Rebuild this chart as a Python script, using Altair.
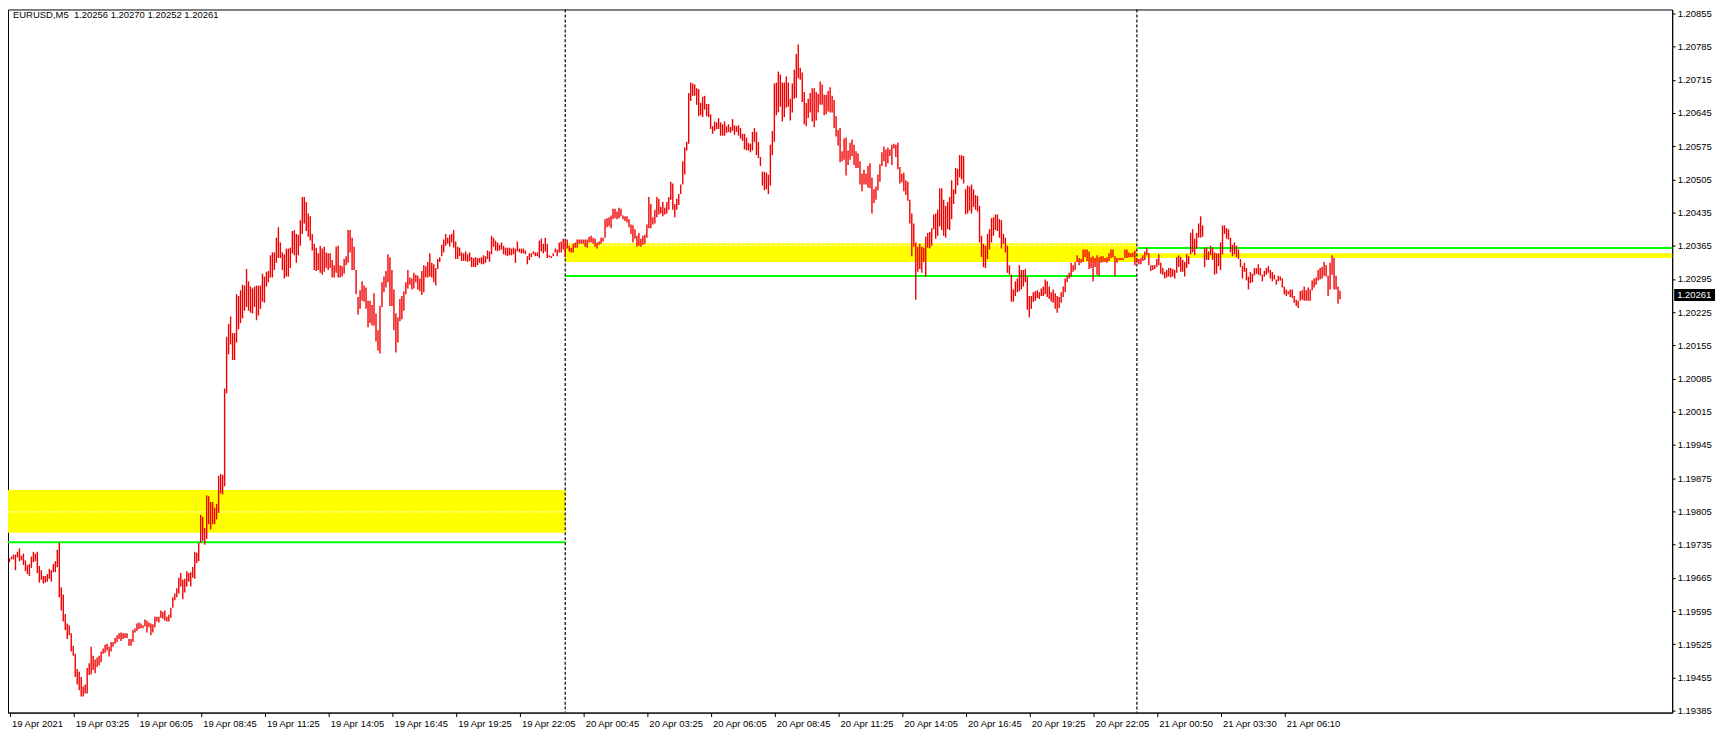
import json
import altair as alt
import pandas as pd

# ---- bar data: high / low of each M5 bar, in price points (1e-5) ----
high_pts = [
    119706,119710,119714,119714,119720,119727,119712,119716,119702,119692,119694,119710,119720,119716,119720,119690,119681,119669,119669,119673,
    119684,119681,119694,119700,119724,119739,119645,119630,119589,119569,119565,119548,119522,119505,119473,119467,119456,119436,119440,119475,
    119485,119520,119501,119493,119497,119501,119510,119516,119524,119526,119520,119530,119530,119538,119544,119548,119550,119548,119548,119548,
    119536,119536,119555,119559,119569,119571,119569,119565,119577,119575,119571,119569,119567,119583,119583,119583,119596,119593,119596,119583,
    119587,119602,119624,119632,119643,119665,119675,119661,119663,119679,119675,119677,119688,119720,119718,119739,119798,119794,119770,119839,
    119837,119825,119825,119813,119821,119880,119884,119882,120064,120173,120200,120216,120181,120181,120263,120259,120271,120283,120281,120316,
    120290,120279,120275,120279,120281,120281,120281,120306,120300,120310,120312,120345,120351,120351,120382,120404,120372,120351,120347,120359,
    120359,120361,120396,120398,120390,120388,120419,120468,120468,120457,120433,120427,120390,120369,120361,120349,120365,120359,120363,120351,
    120349,120349,120335,120324,120363,120365,120324,120322,120337,120343,120398,120398,120382,120363,120314,120257,120271,120290,120281,120277,
    120249,120249,120240,120265,120222,120187,120238,120288,120300,120312,120347,120341,120314,120273,120222,120214,120253,120259,120269,120288,
    120314,120298,120296,120308,120304,120302,120296,120312,120324,120322,120331,120349,120329,120326,120318,120337,120341,120367,120378,120390,
    120382,120388,120390,120398,120374,120363,120361,120351,120349,120353,120347,120351,120341,120339,120341,120339,120339,120341,120345,120343,
    120355,120353,120386,120382,120376,120372,120367,120372,120365,120361,120361,120361,120359,120361,120359,120374,120359,120359,120359,120355,
    120343,120349,120349,120353,120351,120351,120376,120380,120369,120382,120369,120345,120343,120349,120359,120357,120372,120374,120380,120376,
    120378,120365,120361,120369,120372,120378,120378,120378,120378,120378,120378,120384,120386,120382,120380,120372,120374,120382,120382,120421,
    120423,120425,120429,120443,120443,120437,120445,120443,120429,120427,120427,120421,120410,120408,120400,120386,120392,120380,120386,120388,
    120410,120468,120453,120425,120441,120468,120464,120447,120457,120445,120457,120468,120500,120496,120453,120464,120474,120494,120543,120572,
    120584,120687,120709,120707,120705,120697,120695,120666,120679,120681,120664,120664,120642,120617,120627,120625,120634,120625,120621,120627,
    120617,120621,120615,120632,120619,120617,120619,120613,120601,120601,120593,120582,120580,120605,120613,120605,120584,120552,120521,120521,
    120519,120515,120578,120607,120707,120709,120732,120726,120709,120709,120722,120709,120675,120707,120736,120769,120789,120740,120730,120689,
    120666,120675,120687,120697,120697,120689,120685,120711,120705,120683,120683,120691,120699,120681,120672,120638,120609,120613,120564,120591,
    120593,120566,120582,120589,120578,120564,120560,120543,120517,120525,120517,120533,120539,120509,120484,120490,120515,120537,120562,120574,
    120568,120572,120568,120578,120580,120578,120582,120531,120517,120519,120503,120500,120462,120433,120412,120372,120363,120369,120363,120361,
    120384,120392,120394,120402,120431,120433,120441,120486,120486,120462,120449,120457,120468,120503,120484,120529,120527,120556,120556,120554,
    120484,120492,120490,120494,120484,120472,120470,120449,120386,120369,120365,120390,120400,120423,120425,120431,120431,120421,120419,120390,
    120382,120365,120324,120304,120273,120290,120296,120324,120314,120314,120316,120300,120259,120259,120267,120269,120271,120267,120275,120279,
    120294,120290,120279,120267,120273,120265,120259,120257,120267,120279,120296,120302,120308,120329,120324,120331,120345,120339,120337,120357,
    120357,120357,120353,120341,120343,120339,120345,120341,120343,120343,120339,120341,120349,120357,120357,120343,120339,120339,120339,120339,
    120357,120357,120351,120349,120351,120355,120339,120337,120339,120345,120353,120361,120349,120324,120324,120324,120337,120347,120329,120318,
    120310,120314,120318,120318,120316,120314,120341,120345,120341,120335,120331,120347,120343,120392,120400,120380,120392,120412,120427,120408,
    120361,120361,120353,120365,120361,120351,120349,120349,120372,120408,120408,120402,120400,120382,120367,120372,120365,120357,120337,120322,
    120329,120318,120300,120310,120306,120318,120318,120326,120318,120304,120312,120318,120322,120314,120310,120304,120294,120302,120300,120296,
    120279,120273,120269,120273,120273,120259,120251,120249,120269,120271,120279,120271,120277,120273,120292,120296,120298,120314,120318,120320,
    120331,120324,120302,120329,120345,120339,120302,120279,120270,
]
low_pts = [
    119698,119704,119704,119681,119708,119700,119702,119692,119679,119673,119669,119686,119698,119700,119675,119655,119661,119653,119655,119657,
    119663,119657,119677,119677,119688,119624,119596,119573,119555,119536,119544,119510,119501,119456,119440,119428,119415,119415,119421,119421,
    119460,119462,119471,119464,119477,119481,119487,119505,119507,119512,119499,119510,119520,119526,119530,119536,119532,119536,119538,119538,
    119522,119522,119530,119550,119553,119557,119559,119559,119563,119550,119561,119544,119550,119561,119573,119571,119581,119579,119575,119573,
    119573,119581,119602,119618,119624,119632,119647,119620,119634,119647,119657,119647,119665,119663,119696,119700,119739,119743,119735,119747,
    119778,119767,119778,119778,119788,119802,119843,119841,119858,120054,120136,120157,120124,120124,120161,120189,120202,120212,120228,120236,
    120228,120224,120222,120236,120208,120218,120232,120247,120245,120279,120288,120298,120298,120314,120329,120339,120339,120314,120296,120300,
    120300,120318,120349,120345,120329,120345,120365,120390,120412,120396,120384,120376,120355,120314,120312,120314,120308,120304,120310,120318,
    120314,120318,120298,120298,120308,120298,120298,120300,120306,120324,120329,120351,120314,120314,120263,120220,120232,120249,120247,120232,
    120193,120202,120197,120197,120163,120144,120138,120236,120267,120277,120288,120238,120238,120187,120140,120161,120206,120210,120228,120263,
    120275,120283,120273,120275,120288,120273,120269,120261,120267,120298,120298,120300,120298,120288,120281,120316,120331,120343,120351,120365,
    120369,120363,120372,120361,120337,120337,120343,120333,120333,120333,120331,120333,120320,120320,120320,120324,120329,120326,120326,120329,
    120337,120331,120347,120363,120355,120353,120355,120357,120347,120345,120343,120345,120345,120347,120329,120353,120351,120349,120349,120347,
    120326,120335,120341,120347,120343,120343,120339,120353,120349,120353,120339,120341,120339,120343,120351,120343,120351,120351,120357,120341,
    120359,120353,120351,120351,120361,120361,120369,120369,120369,120363,120361,120372,120372,120369,120363,120359,120367,120369,120374,120382,
    120404,120406,120402,120421,120423,120421,120423,120427,120421,120417,120414,120404,120390,120372,120380,120363,120365,120363,120367,120369,
    120382,120402,120402,120410,120412,120425,120431,120433,120427,120431,120433,120441,120462,120441,120425,120441,120451,120474,120494,120515,
    120566,120580,120670,120681,120681,120662,120638,120640,120636,120652,120638,120636,120611,120601,120607,120611,120611,120597,120597,120597,
    120603,120605,120603,120607,120599,120605,120597,120591,120586,120568,120566,120566,120562,120566,120584,120556,120550,120533,120492,120482,
    120484,120474,120492,120556,120584,120640,120646,120658,120627,120636,120656,120658,120629,120646,120675,120677,120718,120715,120668,120621,
    120617,120634,120646,120627,120615,120629,120646,120662,120662,120640,120642,120648,120646,120646,120613,120595,120576,120541,120543,120546,
    120513,120535,120546,120554,120535,120529,120529,120494,120480,120494,120494,120488,120486,120433,120455,120462,120482,120500,120533,120543,
    120531,120539,120554,120535,120570,120552,120527,120496,120499,120480,120472,120460,120412,120343,120363,120251,120310,120316,120308,120331,
    120300,120361,120359,120365,120400,120380,120386,120406,120398,120386,120382,120400,120398,120421,120453,120474,120492,120509,120505,120496,
    120431,120433,120439,120433,120447,120441,120437,120372,120341,120320,120318,120337,120357,120372,120386,120398,120396,120382,120359,120369,
    120351,120308,120304,120247,120247,120259,120267,120269,120273,120279,120288,120230,120214,120232,120247,120249,120255,120253,120259,120259,
    120263,120257,120253,120247,120245,120232,120224,120234,120245,120257,120267,120288,120296,120300,120310,120314,120331,120324,120329,120331,
    120341,120333,120316,120318,120290,120320,120304,120302,120329,120331,120331,120329,120333,120339,120341,120302,120329,120335,120335,120335,
    120339,120339,120341,120341,120341,120324,120329,120326,120326,120333,120335,120345,120324,120312,120314,120316,120320,120324,120306,120304,
    120296,120298,120300,120298,120300,120296,120308,120320,120310,120310,120300,120318,120326,120347,120351,120345,120359,120382,120382,120384,
    120320,120335,120335,120345,120335,120304,120306,120322,120314,120347,120390,120380,120378,120351,120343,120347,120341,120337,120320,120296,
    120310,120292,120273,120286,120288,120302,120306,120304,120302,120290,120300,120304,120308,120296,120290,120294,120283,120290,120292,120277,
    120263,120259,120263,120257,120255,120245,120238,120234,120249,120251,120249,120249,120249,120249,120271,120277,120283,120292,120294,120296,
    120302,120300,120259,120273,120304,120273,120273,120243,120252,
]
assert len(high_pts) == len(low_pts), (len(high_pts), len(low_pts))

# ---- axis ticks / labels ----
time_label_bars = [0, 32, 64, 96, 128, 160, 192, 224, 256, 288, 320, 352, 384, 416, 448, 480, 512, 544, 576, 608, 640]
time_labels = [
    "19 Apr 2021", "19 Apr 03:25", "19 Apr 06:05", "19 Apr 08:45", "19 Apr 11:25", "19 Apr 14:05",
    "19 Apr 16:45", "19 Apr 19:25", "19 Apr 22:05", "20 Apr 00:45", "20 Apr 03:25", "20 Apr 06:05",
    "20 Apr 08:45", "20 Apr 11:25", "20 Apr 14:05", "20 Apr 16:45", "20 Apr 19:25", "20 Apr 22:05",
    "21 Apr 00:50", "21 Apr 03:30", "21 Apr 06:10",
]
price_ticks = [1.19385, 1.19455, 1.19525, 1.19595, 1.19665, 1.19735, 1.19805, 1.19875, 1.19945, 1.20015,
               1.20085, 1.20155, 1.20225, 1.20295, 1.20365, 1.20435, 1.20505, 1.20575, 1.20645, 1.20715,
               1.20785, 1.20855]

# ---- zones (yellow), their middle dashed lines, green levels, day separators ----
zone_start = [-1, 279, 566]
zone_end = [279, 566, 840]
zone_top = [1.19850, 1.20370, 1.20349]
zone_bottom = [1.19760, 1.20331, 1.20339]
mid_start = [-1, 279]
mid_end = [279, 566]
mid_level = [1.19804, 1.20366]
green_start = [-1, 279, 566.5]
green_end = [279, 566, 840]
green_level = [1.19740, 1.20301, 1.20360]
day_separators = [279, 566]

symbol_title = "EURUSD,M5\u00a0 1.20256 1.20270 1.20252 1.20261"
last_price = 1.20261
last_label = "1.20261"

W, H = 1671, 706
x_dom = [-0.75, 834.75]
y_dom = [1.19381, 1.20863]
FONT = "Liberation Sans"
FS = 9.5

xs = alt.Scale(domain=x_dom, nice=False, zero=False)
ys = alt.Scale(domain=y_dom, nice=False, zero=False)

label_expr = json.dumps(time_labels) + "[round(datum.value / 32)]"
x_axis = alt.Axis(values=time_label_bars, labelExpr=label_expr, title=None, grid=False, orient="bottom",
                  tickSize=4, tickColor="black", domainColor="black", labelAlign="left", labelBaseline="top",
                  labelPadding=2, labelOffset=2, labelFont=FONT, labelFontSize=FS, labelColor="black",
                  labelFlush=False, labelOverlap=False, labelBound=False)
y_axis = alt.Axis(values=price_ticks, format=".5f", orient="right", title=None, grid=False,
                  tickSize=3, tickColor="black", domainColor="black", labelPadding=2,
                  labelFont=FONT, labelFontSize=FS, labelColor="black", labelFlush=False, labelOverlap=False)

bars_df = pd.DataFrame({
    "bar": list(range(len(high_pts))),
    "high": [h / 1e5 for h in high_pts],
    "low": [l / 1e5 for l in low_pts],
})
zones_df = pd.DataFrame({"start": zone_start, "end": zone_end, "top": zone_top, "bottom": zone_bottom})
mid_df = pd.DataFrame({"start": mid_start, "end": mid_end, "level": mid_level})
green_df = pd.DataFrame({"start": green_start, "end": green_end, "level": green_level})
sep_df = pd.DataFrame({"bar": day_separators})

zones = alt.Chart(zones_df).mark_rect(color="#ffff00", clip=True).encode(
    x=alt.X("start:Q", scale=xs, axis=x_axis), x2="end:Q",
    y=alt.Y("top:Q", scale=ys, axis=y_axis), y2="bottom:Q")
mids = alt.Chart(mid_df).mark_rule(color="white", strokeDash=[3, 2], strokeWidth=1, clip=True).encode(
    x=alt.X("start:Q", scale=xs, axis=x_axis), x2="end:Q",
    y=alt.Y("level:Q", scale=ys, axis=y_axis))
greens = alt.Chart(green_df).mark_rule(color="#00ff00", strokeWidth=2, clip=True).encode(
    x=alt.X("start:Q", scale=xs, axis=x_axis), x2="end:Q",
    y=alt.Y("level:Q", scale=ys, axis=y_axis))
seps = alt.Chart(sep_df).mark_rule(color="black", strokeDash=[3, 2], strokeWidth=1.2).encode(
    x=alt.X("bar:Q", scale=xs, axis=x_axis))
bars = alt.Chart(bars_df).mark_rule(color="#f00000", strokeWidth=1.4).encode(
    x=alt.X("bar:Q", scale=xs, axis=x_axis),
    y=alt.Y("low:Q", scale=ys, axis=y_axis), y2="high:Q")

title_text = alt.Chart(pd.DataFrame({"t": [symbol_title]})).mark_text(
    align="left", baseline="middle", font=FONT, fontSize=FS, color="black").encode(
    x=alt.value(5), y=alt.value(6), text="t:N")

half = 6.0 / H * (y_dom[1] - y_dom[0])
box_df = pd.DataFrame({"top": [last_price + half], "bottom": [last_price - half],
                       "price": [last_price], "label": [last_label]})
box = alt.Chart(box_df).mark_rect(color="black").encode(
    x=alt.value(W + 2), x2=alt.value(W + 43),
    y=alt.Y("top:Q", scale=ys, axis=y_axis), y2="bottom:Q")
box_text = alt.Chart(box_df).mark_text(align="left", baseline="middle", font=FONT, fontSize=FS,
                                       color="white").encode(
    x=alt.value(W + 5), y=alt.Y("price:Q", scale=ys, axis=y_axis), text="label:N")

chart = alt.layer(zones, mids, greens, seps, bars, title_text, box, box_text).properties(
    width=W, height=H,
    padding={"left": 0, "top": 0, "right": 45, "bottom": 17},
    autosize=alt.AutoSizeParams(type="none"),
).configure_view(stroke="black", strokeWidth=1)

chart.save("out.html", embed_options={"renderer": "svg", "actions": False})
